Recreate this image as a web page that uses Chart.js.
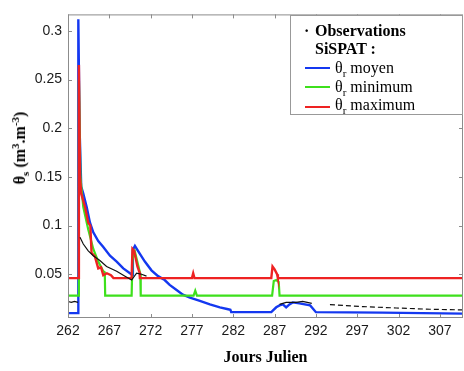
<!DOCTYPE html>
<html>
<head>
<meta charset="utf-8">
<script src="https://cdn.jsdelivr.net/npm/chart.js@4.4.1/dist/chart.umd.min.js"></script>
<style>
  body { margin: 0; background: #fff; }
  #wrap { position: relative; width: 464px; height: 371px; }
  .serif { font-family: 'Liberation Serif', 'Times New Roman', serif; font-size: 16px; color: #000; }
  #ytitle { position: absolute; left: 20px; top: 148px; transform: translate(-50%, -50%) rotate(-90deg); white-space: nowrap; font-weight: bold; }
  #legend { position: absolute; left: 290px; top: 15px; width: 171px; height: 98px; border: 1px solid #999; background: #fff; }
  .row { position: absolute; height: 18px; line-height: 18px; white-space: nowrap; }
  .swatch { position: absolute; left: 14px; width: 25px; height: 2px; }
  sub, sup { font-size: 11px; line-height: 0; }
</style>
</head>
<body>
<div id="wrap">
  <canvas id="myChart" width="464" height="371"></canvas>
  <div id="ytitle" class="serif">θ<sub>s</sub> (m<sup>3</sup>.m<sup>-3</sup>)</div>
  <div id="legend" class="serif">
    <div class="row" style="left:13px; top:5.7px; font-weight:bold;">·</div>
    <div class="row" style="left:24px; top:5.7px; font-weight:bold;">Observations</div>
    <div class="row" style="left:24px; top:24.3px; font-weight:bold;">SiSPAT :</div>
    <div class="swatch" style="top:51.3px; background:#1438f0;"></div>
    <div class="row" style="left:44px; top:42.9px;">θ<sub>r</sub> moyen</div>
    <div class="swatch" style="top:70.3px; background:#3ee01c;"></div>
    <div class="row" style="left:44px; top:61.5px;">θ<sub>r</sub> minimum</div>
    <div class="swatch" style="top:89.7px; background:#ee2222;"></div>
    <div class="row" style="left:44px; top:80.1px;">θ<sub>r</sub> maximum</div>
  </div>
</div>
<script>
// --- DATA ---
const xTicks = [262, 267, 272, 277, 282, 287, 292, 297, 302, 307];
const yTicks = [0.05, 0.1, 0.15, 0.2, 0.25, 0.3];

// Observations (null = pas de mesure)
const obsDays = [262, 262.4, 262.8, 263.2, 263.3,
  263.45, 263.85, 264.45, 265.06, 265.86, 266.67, 267.89, 268.9, 269.7, 270.3, 270.9, 271.5, 271.6,
  287.6, 288.4, 289.6, 290.4, 291.5, 291.6,
  293.7, 297.7, 301.7, 305.8, 309.8];
const obsVals = [0.022, 0.021, 0.022, 0.021, null,
  0.088, 0.081, 0.074, 0.069, 0.064, 0.058, 0.053, 0.048, 0.044, 0.051, 0.050, 0.048, null,
  0.019, 0.021, 0.021, 0.022, 0.020, null,
  0.0187, 0.0167, 0.0153, 0.014, 0.0133];

// SiSPAT theta_r moyen
const moyenDays = [262, 263.22, 263.25, 263.4, 263.6, 263.85, 264.26, 264.66, 265.06, 265.66, 266.27, 267.08,
  267.89, 268.69, 269.5, 269.82, 269.85, 270.1, 270.7, 271.3, 272.1, 272.9, 273.7, 274.3, 275.1, 275.9,
  276.75, 277.96, 279.17, 280.38, 281.38, 281.65, 281.75, 286.6, 287.2, 287.6, 288.0, 288.4, 288.8,
  289.2, 290.0, 291.3, 291.6, 292.0, 300, 309.8];
const moyenVals = [0.010, 0.010, 0.312, 0.2, 0.14, 0.133, 0.119, 0.103, 0.093, 0.084, 0.078, 0.069,
  0.063, 0.056, 0.051, 0.049, 0.075, 0.079, 0.071, 0.063, 0.054, 0.048, 0.044, 0.039, 0.034, 0.029,
  0.026, 0.0227, 0.019, 0.016, 0.014, 0.0135, 0.011, 0.011, 0.016, 0.018, 0.019, 0.016, 0.019,
  0.021, 0.020, 0.018, 0.015, 0.011, 0.0105, 0.0095];

// SiSPAT theta_r minimum
const minDays = [262, 263.3, 263.32, 263.5, 263.85, 264.45, 265.06, 265.66, 266.27, 266.45, 266.5,
  269.7, 269.8, 270.1, 270.5, 270.75, 270.8, 277.2, 277.4, 277.6, 286.7, 286.9, 287.2, 287.5, 287.6, 309.8];
const minVals = [0.028, 0.028, 0.25, 0.15, 0.119, 0.096, 0.076, 0.063, 0.053, 0.052, 0.028,
  0.028, 0.065, 0.073, 0.059, 0.05, 0.028, 0.028, 0.033, 0.028, 0.028, 0.043, 0.044, 0.042, 0.028, 0.028];

// SiSPAT theta_r maximum
const maxDays = [262, 263.3, 263.32, 263.45, 263.6, 264.06, 264.45, 264.7, 264.85, 265.26, 265.66, 266.0,
  266.27, 266.7, 267.2, 267.5, 269.7, 269.8, 270.0, 270.4, 270.65, 270.7, 277.0, 277.15, 277.3,
  286.6, 286.75, 287.0, 287.3, 287.4, 309.8];
const maxVals = [0.046, 0.046, 0.265, 0.15, 0.133, 0.119, 0.103, 0.100, 0.072, 0.068, 0.056, 0.057,
  0.049, 0.051, 0.049, 0.046, 0.046, 0.076, 0.074, 0.058, 0.052, 0.046, 0.046, 0.051, 0.046,
  0.046, 0.058, 0.055, 0.050, 0.046, 0.046];

function pts(days, vals) {
  return days.map((d, i) => ({ x: d, y: vals[i] }));
}

// --- AXES BOX + TICKS VERS L'INTERIEUR ---
const boxPlugin = {
  id: 'box',
  afterDatasetsDraw(chart) {
    const { ctx, chartArea: a, scales: { x, y } } = chart;
    ctx.save();
    ctx.strokeStyle = '#8c8c8c';
    ctx.lineWidth = 1;
    ctx.strokeRect(a.left + 0.5, a.top + 0.5, a.width - 1, a.height - 1);
    ctx.beginPath();
    xTicks.forEach(v => {
      const px = Math.round(x.getPixelForValue(v)) + 0.5;
      ctx.moveTo(px, a.bottom); ctx.lineTo(px, a.bottom - 4);
      ctx.moveTo(px, a.top); ctx.lineTo(px, a.top + 4);
    });
    yTicks.forEach(v => {
      const py = Math.round(y.getPixelForValue(v)) + 0.5;
      ctx.moveTo(a.left, py); ctx.lineTo(a.left + 4, py);
      ctx.moveTo(a.right, py); ctx.lineTo(a.right - 4, py);
    });
    ctx.stroke();
    ctx.restore();
  }
};

const tickFont = { family: "'Liberation Sans', Arial, sans-serif", size: 14 };

const ctx = document.getElementById('myChart').getContext('2d');
let myChart = new Chart(ctx, {
  type: 'line',
  data: {
    datasets: [
      {
        label: 'Observations',
        data: pts(obsDays, obsVals),
        borderColor: '#111',
        borderWidth: 1.2,
        pointRadius: 0,
        spanGaps: false,
        segment: { borderDash: c => c.p0.parsed.x > 292.5 ? [5, 3] : undefined }
      },
      {
        label: 'θr maximum',
        data: pts(maxDays, maxVals),
        borderColor: '#ee2222',
        borderWidth: 2.4,
        pointRadius: 0
      },
      {
        label: 'θr minimum',
        data: pts(minDays, minVals),
        borderColor: '#3ee01c',
        borderWidth: 2.2,
        pointRadius: 0
      },
      {
        label: 'θr moyen',
        data: pts(moyenDays, moyenVals),
        borderColor: '#1438f0',
        borderWidth: 2.4,
        pointRadius: 0
      }
    ]
  },
  options: {
    responsive: false,
    animation: false,
    devicePixelRatio: 1,
    layout: { padding: { left: 0, right: 1, top: 6, bottom: 0 } },
    plugins: {
      legend: { display: false },
      tooltip: { enabled: false }
    },
    scales: {
      x: {
        type: 'linear',
        min: 262,
        max: 309.8,
        afterBuildTicks: s => { s.ticks = xTicks.map(v => ({ value: v })); },
        afterFit: s => { s.height = 53; },
        grid: { display: false, drawTicks: false },
        border: { display: false },
        ticks: { font: tickFont, color: '#1a1a1a', padding: 5, maxRotation: 0, autoSkip: false },
        title: {
          display: true,
          text: 'Jours Julien',
          color: '#000',
          font: { family: "'Liberation Serif', 'Times New Roman', serif", size: 16, weight: 'bold' },
          padding: { top: 0, bottom: 4 }
        }
      },
      y: {
        min: 0.005,
        max: 0.317,
        afterBuildTicks: s => { s.ticks = yTicks.map(v => ({ value: v })); },
        afterFit: s => { s.width = 68; },
        grid: { display: false, drawTicks: false },
        border: { display: false },
        ticks: {
          font: tickFont, color: '#1a1a1a', padding: 6,
          callback: v => String(+v.toFixed(2))
        }
      }
    }
  },
  plugins: [boxPlugin]
});
</script>
</body>
</html>
